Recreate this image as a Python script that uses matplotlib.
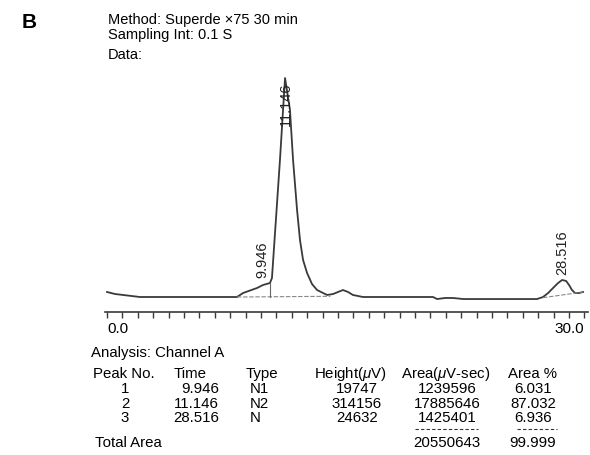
import matplotlib
matplotlib.use('Agg')
import matplotlib.pyplot as plt
from matplotlib.ticker import MultipleLocator, FixedLocator

plt.rcParams['font.family'] = ['Liberation Sans', 'DejaVu Sans']
plt.rcParams['mathtext.fontset'] = 'custom'
plt.rcParams['mathtext.it'] = 'Liberation Sans:italic'

# chromatogram trace (time in min, signal in mV above baseline)
trace_time = [0.0, 0.52, 2.14, 7.14, 8.44, 8.83, 9.74, 10.13, 10.58, 10.71,
              11.23, 11.43, 11.56, 11.88, 12.08, 12.34, 12.53, 12.73, 12.99,
              13.31, 13.64, 14.29, 14.68, 15.0, 15.32, 15.65, 15.97, 16.62,
              21.17, 21.43, 21.95, 22.47, 23.12, 27.92, 28.31, 28.64, 28.96,
              29.29, 29.55, 29.81, 30.0, 30.19, 30.39, 30.65, 30.91]
trace_signal = [7.2, 4.3, 0.0, 0.0, 0.0, 5.7, 12.9, 17.2, 20.1, 27.2,
                196.5, 268.2, 314.0, 268.2, 196.5, 124.8, 81.7, 53.1, 34.4,
                18.6, 10.0, 2.9, 4.3, 7.2, 10.0, 7.2, 2.9, 0.0,
                0.0, -2.9, -1.4, -1.4, -2.9, -2.9, 0.0, 5.7, 12.9,
                20.1, 24.4, 23.0, 17.2, 10.0, 5.7, 5.7, 7.2]

# integration baselines and peak labels
base1_time = [8.44, 14.5]
base1_signal = [0.0, 1.0]
base3_time = [28.31, 30.91]
base3_signal = [-1.0, 7.2]
drop_time = 10.58
drop_signal = 20.1

peak_labels = ['9.946', '11.146', '28.516']
peak_label_time = [10.1, 11.6, 29.55]
peak_label_signal = [27.0, 245.0, 31.0]

# result table
header = ['Peak No.', 'Time', 'Type', 'Height($\\mu$V)', 'Area($\\mu$V-sec)', 'Area %']
peak_no = ['1', '2', '3']
peak_time = ['9.946', '11.146', '28.516']
peak_type = ['N1', 'N2', 'N']
peak_height = ['19747', '314156', '24632']
peak_area = ['1239596', '17885646', '1425401']
peak_area_pct = ['6.031', '87.032', '6.936']
total_area = '20550643'
total_pct = '99.999'

fig = plt.figure(figsize=(5.9, 4.55), dpi=100)
ax = fig.add_axes([105 / 590, 143 / 455, 483 / 590, 242 / 455])

line_col = '#3a3a3a'
ax.plot(trace_time, trace_signal, color=line_col, lw=1.3, solid_joinstyle='round')
ax.plot(base1_time, base1_signal, color='#888888', lw=0.8, ls=(0, (4, 1.5)))
ax.plot(base3_time, base3_signal, color='#888888', lw=0.8, ls=(0, (4, 1.5)))
ax.plot([drop_time, drop_time], [0, drop_signal], color='#666666', lw=0.8)

for lab, t, s in zip(peak_labels, peak_label_time, peak_label_signal):
    ax.text(t, s, lab, rotation=90, ha='center', va='bottom', fontsize=10.5, color='#222222')

ax.set_xlim(-0.13, 31.23)
ax.set_ylim(-21.5, 325.5)
for side in ['top', 'right', 'left']:
    ax.spines[side].set_visible(False)
ax.spines['bottom'].set_color(line_col)
ax.spines['bottom'].set_linewidth(1.2)
ax.set_yticks([])
ax.xaxis.set_major_locator(FixedLocator([0, 30]))
ax.xaxis.set_minor_locator(MultipleLocator(1))
ax.tick_params(axis='x', which='both', direction='out', length=4, width=1, color=line_col)
ax.set_xticklabels(['0.0', '30.0'], fontsize=11)
ax.get_xticklabels()[0].set_horizontalalignment('left')

# header text
fig.text(22 / 590, 1 - 22 / 455, 'B', fontsize=15, fontweight='bold', va='center')
fig.text(108 / 590, 1 - 20 / 455, 'Method: Superde \u00d775 30 min', fontsize=10.5, va='center')
fig.text(108 / 590, 1 - 35 / 455, 'Sampling Int: 0.1 S', fontsize=10.5, va='center')
fig.text(108 / 590, 1 - 55 / 455, 'Data:', fontsize=10.5, va='center')

# table
fs = 10.8
fig.text(91 / 590, 1 - 353 / 455, 'Analysis: Channel A', fontsize=fs, va='center')
hy = 1 - 374 / 455
head_x = [93, 190, 262, 350, 446, 533]
head_ha = ['left', 'center', 'center', 'center', 'center', 'center']
for h, x, ha in zip(header, head_x, head_ha):
    fig.text(x / 590, hy, h, fontsize=fs, va='center', ha=ha)

row_y = [389, 404, 418]
for i, y in enumerate(row_y):
    fy = 1 - y / 455
    fig.text(125 / 590, fy, peak_no[i], fontsize=fs, va='center', ha='center')
    fig.text(219 / 590, fy, peak_time[i], fontsize=fs, va='center', ha='right')
    fig.text(250 / 590, fy, peak_type[i], fontsize=fs, va='center', ha='left')
    fig.text(357 / 590, fy, peak_height[i], fontsize=fs, va='center', ha='center')
    fig.text(447 / 590, fy, peak_area[i], fontsize=fs, va='center', ha='center')
    fig.text(533 / 590, fy, peak_area_pct[i], fontsize=fs, va='center', ha='center')

dash_y = 1 - 429 / 455
fig.add_artist(plt.Line2D([415 / 590, 478 / 590], [dash_y, dash_y], color='#333333',
                          lw=0.8, ls=(0, (3, 2))))
fig.add_artist(plt.Line2D([517 / 590, 557 / 590], [dash_y, dash_y], color='#333333',
                          lw=0.8, ls=(0, (3, 2))))

ty = 1 - 443 / 455
fig.text(95 / 590, ty, 'Total Area', fontsize=fs, va='center')
fig.text(447 / 590, ty, total_area, fontsize=fs, va='center', ha='center')
fig.text(533 / 590, ty, total_pct, fontsize=fs, va='center', ha='center')

fig.savefig('out.png', dpi=100)
